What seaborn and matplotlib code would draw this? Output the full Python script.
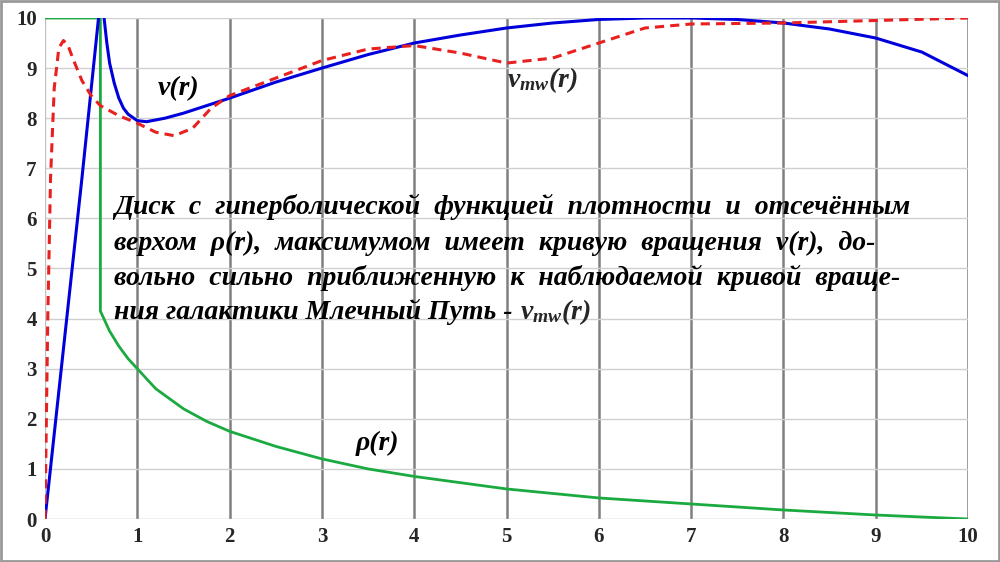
import matplotlib
matplotlib.use("Agg")
import matplotlib.pyplot as plt
import seaborn as sns

r_rho = [0, 0.6, 0.6, 0.7, 0.8, 0.9, 1.0, 1.2, 1.5, 1.75, 2, 2.5, 3, 3.5, 4, 5, 6, 7, 8, 9, 10]
rho = [10, 10, 4.15, 3.75, 3.45, 3.2, 3.0, 2.6, 2.2, 1.95, 1.75, 1.45, 1.2, 1.0, 0.85, 0.6, 0.42, 0.3, 0.18, 0.08, 0.0]
r_v = [0, 0.2, 0.4, 0.58, 0.6, 0.62, 0.64, 0.67, 0.7, 0.75, 0.8, 0.85, 0.9, 1.0, 1.1, 1.3, 1.5, 2, 2.5, 3, 3.5, 4, 4.5, 5, 5.5, 6, 6.5, 7, 7.5, 8, 8.5, 9, 9.5, 10]
v = [0, 3.4, 6.8, 10.0, 12, 11, 10.0, 9.5, 9.1, 8.7, 8.4, 8.2, 8.08, 7.95, 7.93, 8.0, 8.1, 8.4, 8.72, 9.0, 9.27, 9.5, 9.66, 9.8, 9.9, 9.97, 10.0, 10.0, 9.97, 9.9, 9.78, 9.6, 9.32, 8.85]
r_mw = [0, 0.03, 0.06, 0.1, 0.15, 0.2, 0.25, 0.3, 0.4, 0.5, 0.6, 0.8, 1.0, 1.2, 1.4, 1.6, 1.8, 2, 2.5, 3, 3.5, 4, 4.5, 5, 5.5, 6, 6.5, 7, 8, 9, 10]
v_mw = [0, 4.0, 6.8, 8.6, 9.4, 9.55, 9.45, 9.2, 8.75, 8.45, 8.25, 8.05, 7.9, 7.72, 7.65, 7.8, 8.2, 8.45, 8.8, 9.15, 9.38, 9.45, 9.3, 9.1, 9.2, 9.5, 9.8, 9.88, 9.9, 9.95, 10.0]

sns.set_style("white")
plt.rcParams['font.family'] = ['Liberation Serif', 'DejaVu Serif']
plt.rcParams['mathtext.fontset'] = 'custom'
plt.rcParams['mathtext.rm'] = 'Liberation Serif:bold:italic'
plt.rcParams['mathtext.it'] = 'Liberation Serif:bold:italic'

fig = plt.figure(figsize=(10, 5.62), dpi=100)
fig.patches.append(plt.Rectangle((0.001, 0.001), 0.998, 0.997, transform=fig.transFigure,
                                 fill=False, edgecolor='#999999', lw=2))
ax = fig.add_axes([0.045, 0.0765, 0.923, 0.8915])

sns.lineplot(x=r_rho, y=rho, ax=ax, color='#1aaa40', lw=2, sort=False, estimator=None)
sns.lineplot(x=r_v, y=v, ax=ax, color='#0000dd', lw=2.2, sort=False, estimator=None)
sns.lineplot(x=r_mw, y=v_mw, ax=ax, color='#e82020', lw=2.2, ls=(0, (3, 2)), sort=False, estimator=None)

ax.set_xlim(0, 10)
ax.set_ylim(0, 10)
ax.set_xticks(range(11))
ax.set_yticks(range(11))
for xx in range(1, 11):
    ax.axvline(xx, color='#808080', lw=1.8, zorder=0)
for yy in range(1, 11):
    ax.axhline(yy, color='#d0d0d0', lw=1, zorder=0)
for s in ax.spines.values():
    s.set_visible(False)
ax.axhline(0, color='#c0c0c0', lw=1, zorder=0)
ax.axvline(0, color='#c0c0c0', lw=1, zorder=0)
ax.tick_params(labelsize=15, length=0, pad=6)
for lab in ax.get_xticklabels() + ax.get_yticklabels():
    lab.set_fontweight('bold')

tk = dict(fontsize=20, fontweight='bold', style='italic', color='black')
ax.text(1.45, 8.6, 'v(r)', ha='center', va='center', **tk)
ax.text(5.0, 8.76, r'$\mathrm{v_{mw}(r)}$', ha='left', va='center', fontsize=20)
ax.text(3.6, 1.5, 'ρ(r)', ha='center', va='center', **tk)

lines = ['Диск  с  гиперболической  функцией  плотности  и  отсечённым',
         'верхом  ρ(r),  максимумом  имеет  кривую  вращения  v(r),  до-',
         'вольно  сильно  приближенную  к  наблюдаемой  кривой  враще-',
         'ния галактики Млечный Путь - ']
ys = [6.23, 5.51, 4.81, 4.13]
last = None
for t, yy in zip(lines, ys):
    last = ax.text(0.75, yy, t, va='center', **tk)
fig.canvas.draw()
bb = last.get_window_extent(fig.canvas.get_renderer())
xend = ax.transData.inverted().transform((bb.x1, bb.y0))[0]
ax.text(xend, 4.13, r'$\mathrm{v_{mw}(r)}$', va='center', fontsize=20)

fig.savefig('out.png', dpi=100)
